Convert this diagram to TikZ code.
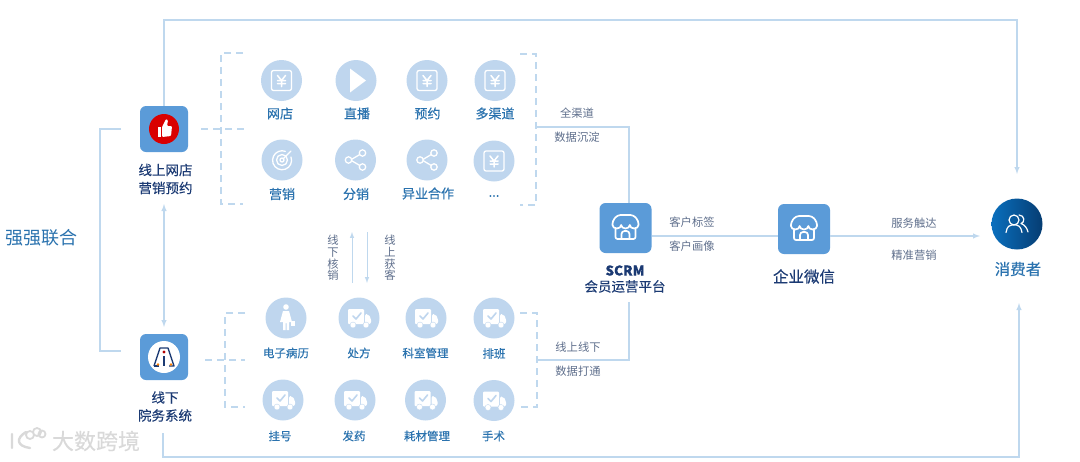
\documentclass[tikz,border=0pt]{standalone}
\usepackage{fontspec}
\setmainfont{Noto Sans CJK SC}
\newfontfamily\midfont{Noto Sans CJK SC}[FakeBold=0.35]
\definecolor{linkblue}{HTML}{BFD8EE}
\definecolor{ballblue}{HTML}{BFD6EE}
\definecolor{boxblue}{HTML}{5B9BD8}
\definecolor{itemblue}{HTML}{2A72AE}
\definecolor{darkblue}{HTML}{1B3A73}
\definecolor{notegray}{HTML}{5F6F8C}
\definecolor{userleft}{HTML}{0A6FBE}
\definecolor{userright}{HTML}{063C72}
\tikzset{
  link/.style={draw=linkblue, line width=1.4pt},
  dashlink/.style={draw=linkblue, line width=1.4pt, dash pattern=on 7pt off 5pt},
  ball/.style={circle, fill=ballblue, minimum size=41pt, inner sep=0pt},
  appbox/.style={rectangle, rounded corners=6pt, fill=boxblue, inner sep=0pt},
  item/.style={text=itemblue, font=\midfont\fontsize{13}{15}\selectfont, inner sep=0pt},
  smallitem/.style={text=itemblue, font=\midfont\fontsize{11.5}{14}\selectfont, inner sep=0pt},
  title/.style={text=darkblue, font=\midfont\fontsize{13.5}{18}\selectfont, align=center, inner sep=0pt},
  note/.style={text=notegray, font=\fontsize{11.3}{13}\selectfont, inner sep=0pt},
  vnote/.style={text=notegray, font=\fontsize{11.3}{11.6}\selectfont, align=center, inner sep=0pt},
  glyph/.style={draw=white, line width=1.3pt, line cap=round, line join=round},
}
\newcommand{\yenicon}[1]{\begin{scope}[shift={(#1.center)}]
  \draw[glyph, rounded corners=2pt] (-10,-10) rectangle (10,10);
  \draw[glyph, line width=1.5pt] (-4,-5) -- (0,0) -- (4,-5) (0,0) -- (0,6) (-4,0) -- (4,0) (-4,3) -- (4,3);
\end{scope}}
\newcommand{\playicon}[1]{\begin{scope}[shift={(#1.center)}]
  \fill[white] (-6,-12) -- (10,0) -- (-6,12) -- cycle;
\end{scope}}
\newcommand{\targeticon}[1]{\begin{scope}[shift={(#1.center)}]
  \draw[glyph] (9,-3) arc (-20:290:9.5);
  \draw[glyph] (0,0) circle (5.5);
  \draw[glyph] (0,0) circle (2);
  \draw[glyph] (1,-1) -- (9,-9);
\end{scope}}
\newcommand{\shareicon}[1]{\begin{scope}[shift={(#1.center)}]
  \draw[glyph] (-5,0) -- (6,-6.5) (-5,0) -- (6,6.5);
  \draw[glyph, fill=ballblue] (-7,0) circle (3.2) (7,-7) circle (3.2) (7,7) circle (3.2);
\end{scope}}
\newcommand{\truckicon}[1]{\begin{scope}[shift={(#1.center)}]
  \fill[white, rounded corners=1pt] (-11,-9) rectangle (5,6);
  \fill[white, rounded corners=2pt] (6,-4) -- (9,-4) -- (12,0) -- (12,6) -- (6,6) -- cycle;
  \draw[glyph, draw=ballblue, line width=1.6pt] (-6,-2) -- (-3,1) -- (2,-5);
  \fill[white, draw=ballblue] (-6,7) circle (3) (7,7) circle (3);
\end{scope}}
\newcommand{\patienticon}[1]{\begin{scope}[shift={(#1.center)}]
  \fill[white] (0,-11) circle (2.8);
  \fill[white] (-3,-7) -- (3,-7) -- (6,4) -- (3,4) -- (3,12) -- (0.5,12) -- (0.5,5) -- (-0.5,5) -- (-0.5,12) -- (-3,12) -- (-3,4) -- (-6,4) -- cycle;
  \fill[white] (5,3) rectangle (9,8);
\end{scope}}
\newcommand{\storeicon}[1]{\begin{scope}[shift={(#1.center)}]
  \draw[glyph, line width=1.7pt, rounded corners=2pt] (-10,1) -- (-10,11) -- (10,11) -- (10,1);
  \draw[glyph, line width=1.7pt, rounded corners=3pt] (-13,-3) -- (-13,-7) -- (-8,-13) -- (8,-13) -- (13,-7) -- (13,-3);
  \draw[glyph, line width=1.7pt] (-13,-3) arc (180:0:4.33 and 3.5) arc (180:0:4.33 and 3.5) arc (180:0:4.33 and 3.5);
  \draw[glyph, line width=1.7pt, rounded corners=3pt] (-4,11) -- (-4,3) -- (4,3) -- (4,11);
\end{scope}}
\begin{document}
\begin{tikzpicture}[x=1pt,y=-1pt,>=latex]
\useasboundingbox (0,0) rectangle (1080,461);
% main boxes
\node[appbox, minimum width=48pt, minimum height=46pt] (shop) at (164,129) {};
\node[appbox, minimum width=48pt, minimum height=46pt] (his) at (164,357) {};
\node[appbox, minimum width=52pt, minimum height=50pt] (scrm) at (625.5,228) {};
\node[appbox, minimum width=52pt, minimum height=50pt] (wework) at (804,229) {};
\node[circle, minimum size=51pt, inner sep=0pt, left color=userleft, right color=userright] (user) at (1017,224) {};
% titles
\node[title] (shoplabel) at (165.5,179) {线上网店\\营销预约};
\node[title] (hislabel) at (165,406.5) {线下\\院务系统};
\node[title, font=\midfont\fontsize{13.5}{16}\selectfont] (scrmlabel) at (625,279) {\textbf{SCRM}\\会员运营平台};
\node[title, font=\midfont\fontsize{15.5}{18}\selectfont] (weworklabel) at (804,276.5) {企业微信};
\node[item, font=\midfont\fontsize{15.5}{18}\selectfont] (userlabel) at (1018,269) {消费者};
\node[text=itemblue, inner sep=0pt, font=\fontsize{18}{20}\selectfont] (union) at (41.5,238) {强强联合};
% online balls
\node[ball] (wd) at (281.5,80.5) {};
\node[ball] (zb) at (356,80.5) {};
\node[ball] (yy) at (427,80.5) {};
\node[ball] (dqd) at (495,80.5) {};
\node[ball] (yx) at (282,160) {};
\node[ball] (fx) at (355.5,160) {};
\node[ball] (yyhz) at (427,160) {};
\node[ball] (more) at (494,161) {};
\node[item] (wdlabel) at (280,113.5) {网店};
\node[item] (zblabel) at (357,113.5) {直播};
\node[item] (yylabel) at (427.5,113.5) {预约};
\node[item] (dqdlabel) at (495,113.5) {多渠道};
\node[item] (yxlabel) at (282,194) {营销};
\node[item] (fxlabel) at (356,194) {分销};
\node[item] (yyhzlabel) at (428,193.5) {异业合作};
\node[item] (morelabel) at (494,196) {...};
% offline balls
\node[ball] (dzbl) at (286,318) {};
\node[ball] (cf) at (359,318) {};
\node[ball] (ksgl) at (426,318) {};
\node[ball] (pb) at (494,318) {};
\node[ball] (gh) at (283,400) {};
\node[ball] (fy) at (355,400) {};
\node[ball] (hcgl) at (425.5,400) {};
\node[ball] (ss) at (494,400.5) {};
\node[smallitem] (dzbllabel) at (286,353) {电子病历};
\node[smallitem] (cflabel) at (359,353) {处方};
\node[smallitem] (ksgllabel) at (425.5,353) {科室管理};
\node[smallitem] (pblabel) at (494,353.5) {排班};
\node[smallitem] (ghlabel) at (280,436) {挂号};
\node[smallitem] (fylabel) at (354,436) {发药};
\node[smallitem] (hcgllabel) at (427,436) {耗材管理};
\node[smallitem] (sslabel) at (493.5,436) {手术};
% notes
\node[note] (qqd) at (577,113) {全渠道};
\node[note] (sjcd) at (577,137) {数据沉淀};
\node[note] (xsxx) at (578,347) {线上线下};
\node[note] (sjdt) at (578,371) {数据打通};
\node[note] (khbq) at (692,222) {客户标签};
\node[note] (khhx) at (692,246) {客户画像};
\node[note] (fwcd) at (914,223) {服务触达};
\node[note] (jzyx) at (914,255) {精准营销};
\node[vnote] (xxhx) at (333,258) {线\\下\\核\\销};
\node[vnote] (xshk) at (390,258) {线\\上\\获\\客};
% free ends
\coordinate (topright) at (1017,20);
\coordinate (usertop) at (1017,174);
\coordinate (botleft) at (163,433);
\coordinate (botright) at (1019,457);
\coordinate (userbot) at (1019,303);
\coordinate (shopleft) at (121,129);
\coordinate (hisleft) at (121,351);
\coordinate (leftbar) at (100,240);
\coordinate (dbltop) at (164,204);
\coordinate (dblbot) at (164,327);
\coordinate (upa) at (352,283);
\coordinate (upb) at (352,232);
\coordinate (downa) at (367,232);
\coordinate (downb) at (367,283);
\coordinate (oncorner) at (536,127);
\coordinate (offcorner) at (536,360);
\coordinate (scrmtop) at (629,203);
\coordinate (scrmbot) at (629,302);
\coordinate (scrmout) at (651.5,236);
\coordinate (weworkin) at (778,236);
\coordinate (weworkout) at (830,236);
\coordinate (usertip) at (980,236);
% connectors
\draw[link,->] (shop.north) |- (topright) -- (usertop);
\draw[link,->] (botleft) |- (botright) -- (userbot);
\draw[link] (shopleft) -| (leftbar) |- (hisleft);
\draw[link,<->] (dbltop) -- (dblbot);
\draw[link,line width=1pt,->] (upa) -- (upb);
\draw[link,line width=1pt,->] (downa) -- (downb);
\draw[link] (oncorner) -| (scrmtop);
\draw[link] (offcorner) -| (scrmbot);
\draw[link] (scrmout) -- (weworkin);
\draw[link,->] (weworkout) -- (usertip);
% dashed brackets
\draw[dashlink] (243,53) -- (221,53) -- (221,204) -- (243,204);
\draw[dashlink] (201,129) -- (245,129);
\draw[dashlink] (520,54) -- (536,54) -- (536,205) -- (520,205);
\draw[dashlink] (245,313) -- (225,313) -- (225,407) -- (245,407);
\draw[dashlink] (205,360) -- (245,360);
\draw[dashlink] (520,313) -- (537,313) -- (537,407) -- (520,407);
% glyphs
\yenicon{wd}
\playicon{zb}
\yenicon{yy}
\yenicon{dqd}
\targeticon{yx}
\shareicon{fx}
\shareicon{yyhz}
\yenicon{more}
\patienticon{dzbl}
\truckicon{cf}
\truckicon{ksgl}
\truckicon{pb}
\truckicon{gh}
\truckicon{fy}
\truckicon{hcgl}
\truckicon{ss}
\storeicon{scrm}
\storeicon{wework}
% thumb
\begin{scope}[shift={(shop.center)}]
\fill[red!85!black] (0,0) circle (15);
\fill[white] (-6,-2) rectangle (-3,8);
\fill[white, rounded corners=1pt] (-2,-2) -- (2,-10) -- (4,-9) -- (3,-3) -- (8,-3) -- (7,7) -- (-2,8) -- cycle;
\end{scope}
% hospital
\begin{scope}[shift={(his.center)}]
\fill[white] (0,0) circle (16);
\draw[darkblue, line width=1.3pt, line join=round] (-10,9) -- (-4,-9) -- (4,-9) -- (10,9) -- (5,9);
\draw[darkblue, line width=1.3pt] (-10,9) -- (-5,9);
\draw[darkblue, line width=1.3pt] (0,-1) -- (0,9);
\fill[red!70!black] (0,-5) circle (1.7);
\fill[orange] (-6,7.5) circle (1.3) (7,7.5) circle (1.3);
\end{scope}
% users
\begin{scope}[shift={(user.center)}]
\draw[glyph, line width=1.2pt] (-3,-4) circle (5);
\draw[glyph, line width=1.2pt] (-11,8.5) .. controls (-10,2) and (-7,1) .. (-5,1) .. controls (2,0) and (4,3) .. (5,8.5);
\draw[glyph, line width=1.2pt] (2,-9) .. controls (8,-9) and (8,-1) .. (4,-0.5) .. controls (8,1) and (10,4) .. (11,8);
\end{scope}
% watermark
\node[text=black!15, inner sep=0pt, font=\midfont\fontsize{22}{24}\selectfont] (mark) at (96,441) {大数跨境};
\draw[black!15, line width=2.4pt, line cap=round] (12,434) -- (12,448) (26,432) .. controls (16,438) and (16,446) .. (30,448);
\draw[black!15, line width=1.8pt] (30,435) circle (4) (37,432) circle (4) (42,434) circle (3.5);
\end{tikzpicture}
\end{document}
